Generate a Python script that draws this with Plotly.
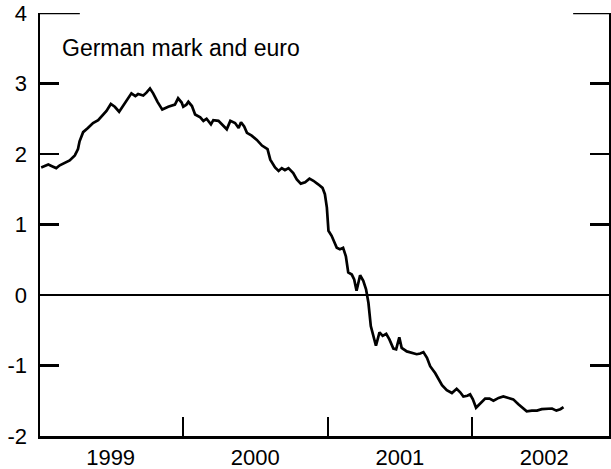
import plotly.graph_objects as go

# Weekly-ish readings of the German mark / euro series (percentage points)
dates = [
    "1999-01-08", "1999-01-26", "1999-02-07", "1999-02-15", "1999-02-24", "1999-03-09",
    "1999-03-21", "1999-04-03", "1999-04-11", "1999-04-15", "1999-04-24", "1999-05-06",
    "1999-05-19", "1999-06-01", "1999-06-13", "1999-06-22", "1999-07-03", "1999-07-13",
    "1999-07-24", "1999-08-05", "1999-08-16", "1999-08-24", "1999-09-03", "1999-09-10",
    "1999-09-23", "1999-10-01", "1999-10-10", "1999-10-18", "1999-10-29", "1999-11-10",
    "1999-11-25", "1999-12-12", "1999-12-20", "1999-12-29", "2000-01-02", "2000-01-10",
    "2000-01-15", "2000-01-24", "2000-02-01", "2000-02-14", "2000-02-22", "2000-03-01",
    "2000-03-12", "2000-03-18", "2000-03-31", "2000-04-13", "2000-04-21", "2000-04-30",
    "2000-05-12", "2000-05-21", "2000-05-27", "2000-06-04", "2000-06-11", "2000-06-23",
    "2000-07-06", "2000-07-19", "2000-08-02", "2000-08-09", "2000-08-21", "2000-08-30",
    "2000-09-07", "2000-09-15", "2000-09-24", "2000-10-06", "2000-10-15", "2000-10-25",
    "2000-11-05", "2000-11-16", "2000-11-26", "2000-12-08", "2000-12-19", "2000-12-25",
    "2000-12-30", "2001-01-03", "2001-01-11", "2001-01-24", "2001-02-01", "2001-02-09",
    "2001-02-16", "2001-02-22", "2001-03-03", "2001-03-09", "2001-03-15", "2001-03-24",
    "2001-04-01", "2001-04-08", "2001-04-14", "2001-04-20", "2001-04-27", "2001-05-03",
    "2001-05-12", "2001-05-20", "2001-05-29", "2001-06-06", "2001-06-16", "2001-06-23",
    "2001-07-01", "2001-07-07", "2001-07-20", "2001-08-02", "2001-08-14", "2001-08-23",
    "2001-08-31", "2001-09-09", "2001-09-17", "2001-09-30", "2001-10-08", "2001-10-17",
    "2001-10-29", "2001-11-11", "2001-11-23", "2001-12-02", "2001-12-10", "2001-12-20",
    "2001-12-27", "2002-01-03", "2002-01-11", "2002-01-23", "2002-02-03", "2002-02-14",
    "2002-02-24", "2002-03-09", "2002-03-21", "2002-04-03", "2002-04-15", "2002-04-28",
    "2002-05-09", "2002-05-19", "2002-06-01", "2002-06-14", "2002-06-26", "2002-07-09",
    "2002-07-22", "2002-08-02", "2002-08-12", "2002-08-20",
]
values = [
    1.81, 1.85, 1.82, 1.80, 1.84, 1.88,
    1.91, 1.98, 2.07, 2.18, 2.31, 2.37,
    2.44, 2.48, 2.55, 2.61, 2.71, 2.67,
    2.60, 2.70, 2.80, 2.86, 2.82, 2.85,
    2.83, 2.87, 2.93, 2.86, 2.74, 2.63,
    2.67, 2.70, 2.79, 2.73, 2.67, 2.70,
    2.74, 2.68, 2.56, 2.52, 2.47, 2.50,
    2.42, 2.48, 2.47, 2.39, 2.35, 2.47,
    2.44, 2.37, 2.45, 2.39, 2.30, 2.26,
    2.20, 2.12, 2.07, 1.92, 1.81, 1.76,
    1.80, 1.77, 1.80, 1.73, 1.64, 1.58,
    1.60, 1.65, 1.62, 1.57, 1.52, 1.43,
    1.24, 0.91, 0.84, 0.67, 0.65, 0.67,
    0.55, 0.32, 0.29, 0.22, 0.06, 0.28,
    0.20, 0.08, -0.11, -0.44, -0.60, -0.72,
    -0.53, -0.58, -0.55, -0.63, -0.76, -0.77,
    -0.60, -0.75, -0.80, -0.82, -0.84, -0.83,
    -0.81, -0.89, -1.01, -1.11, -1.20, -1.28,
    -1.35, -1.39, -1.33, -1.38, -1.44, -1.43,
    -1.41, -1.48, -1.60, -1.53, -1.47, -1.47,
    -1.50, -1.46, -1.44, -1.46, -1.48, -1.55,
    -1.61, -1.65, -1.64, -1.64, -1.62, -1.61,
    -1.61, -1.64, -1.62, -1.59,
]

y_tickvals = [-2, -1, 0, 1, 2, 3, 4]
y_ticktext = ["-2", "-1", "0", "1", "2", "3", "4"]
x_range = ["1999-01-05", "2002-12-13"]
y_range = [-2, 4]
panel_title = "German mark and euro"

FONT = "Liberation Sans, Arial, Helvetica, sans-serif"

fig = go.Figure(
    go.Scatter(
        x=dates, y=values, mode="lines",
        line=dict(color="black", width=2.7),
        hoverinfo="skip",
    )
)

fig.update_layout(
    width=611, height=469,
    margin=dict(l=40, r=2, t=13, b=33),
    plot_bgcolor="white", paper_bgcolor="white",
    showlegend=False,
    font=dict(family=FONT, size=22, color="black"),
)

fig.update_xaxes(
    type="date", range=x_range, automargin=False,
    showline=True, linecolor="black", linewidth=2.5,
    ticks="inside", ticklen=19, tickwidth=2.2, tickcolor="black",
    tick0="1999-01-01", dtick="M12", ticklabelmode="period", tickformat="%Y",
    showgrid=False, zeroline=False,
    tickfont=dict(family=FONT, size=22, color="black"),
    ticklabelstandoff=0,
)

fig.update_yaxes(
    range=y_range, automargin=False,
    tickmode="array", tickvals=y_tickvals, ticktext=y_ticktext,
    showline=True, mirror="ticks", linecolor="black", linewidth=2.5,
    ticks="inside", ticklen=19, tickwidth=2.5, tickcolor="black",
    showgrid=False,
    zeroline=True, zerolinecolor="black", zerolinewidth=2.5,
    tickfont=dict(family=FONT, size=22, color="black"),
    ticklabelstandoff=6,
)

# Longer top ticks at y = 4 on both sides
fig.add_shape(type="line", xref="paper", yref="y", x0=0, x1=0.07, y0=4, y1=4,
              line=dict(color="black", width=2.5))
fig.add_shape(type="line", xref="paper", yref="y", x0=0.937, x1=1, y0=4, y1=4,
              line=dict(color="black", width=2.5))

fig.add_annotation(
    text=panel_title, xref="paper", yref="paper",
    x=0.036, y=0.917, xanchor="left", yanchor="middle",
    showarrow=False, font=dict(family=FONT, size=23, color="black"),
)

# Remove the browser's default 8px body margin so the figure fills the window exactly.
fig.write_html(
    "out.html",
    config={"displayModeBar": False, "staticPlot": True},
    post_script="document.body.style.margin='0';document.body.style.overflow='hidden';",
)
